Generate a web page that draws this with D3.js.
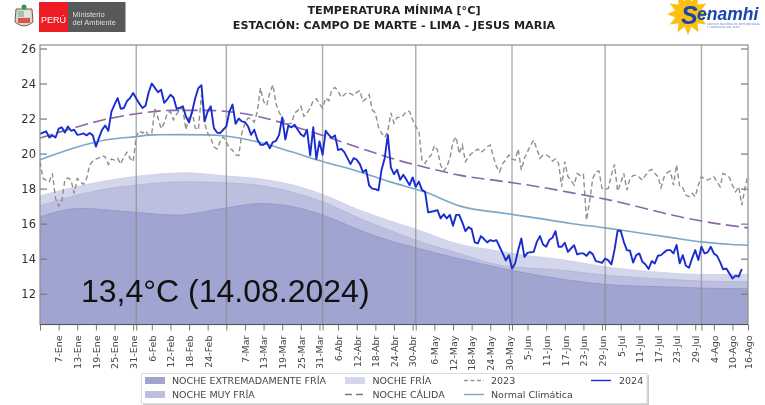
<!DOCTYPE html>
<html><head><meta charset="utf-8">
<script src="https://cdn.jsdelivr.net/npm/d3@7"></script>
<style>html,body{margin:0;padding:0;background:#fff}svg{display:block;filter:blur(0.35px)}text{font-family:"DejaVu Sans",sans-serif}</style>
</head><body><div id="c"></div>
<script>
const yearTitle1 = "TEMPERATURA MÍNIMA [°C]";
const yearTitle2 = "ESTACIÓN: CAMPO DE MARTE - LIMA - JESUS MARIA";
const annotation = "13,4°C (14.08.2024)";
const yTicks = [12,14,16,18,20,22,24,26];
const monthStartDays = [31,60,91,121,152,182,213];
const tickDays = [6,12,18,24,30,36,42,48,54,66,72,78,84,90,96,102,108,114,120,127,133,139,145,151,157,163,169,175,181,187,193,199,205,211,217,223,228];
const tickLabels = ["7-Ene","13-Ene","19-Ene","25-Ene","31-Ene","6-Feb","12-Feb","18-Feb","24-Feb","7-Mar","13-Mar","19-Mar","25-Mar","31-Mar","6-Abr","12-Abr","18-Abr","24-Abr","30-Abr","6-May","12-May","18-May","24-May","30-May","5-Jun","11-Jun","17-Jun","23-Jun","29-Jun","5-Jul","11-Jul","17-Jul","23-Jul","29-Jul","4-Ago","10-Ago","16-Ago"];

const t2024 = [21.13,21.2,21.27,20.92,21.04,20.92,21.42,21.5,21.2,21.55,21.3,21.36,21.07,21.1,21.15,21.04,21.17,21.04,20.4,20.9,21.36,21.6,21.3,22.4,22.8,23.17,22.56,22.6,23,23.17,23.46,23.15,22.85,22.6,22.75,23.5,24,23.75,23.5,23.65,22.9,23.1,23.36,23.2,22.56,22.6,22.7,22.12,21.78,22.4,23.17,23.74,23.9,21.84,22.4,22.7,21.46,21.2,21.17,21.36,21.55,22.4,22.8,21.7,22,21.84,21.8,21.55,21.07,21.36,20.8,20.5,20.5,20.66,20.3,20.66,20.73,21.07,22.07,20.8,21.6,21.5,21.65,21.36,21.1,20.98,21.36,19.9,21.5,19.7,20.7,19.93,21.3,21.07,20.9,21.04,20.2,20.27,20.08,19.74,19.4,19.74,19.65,19.4,18.94,19.08,18.18,18,17.97,17.9,19.08,19.74,21.07,19.2,18.83,19.08,18.5,18.79,18.5,18.2,18.64,18.1,18.4,17.93,17.82,16.64,16.68,16.72,16.77,16.3,16.53,16.3,16.5,15.88,16.5,16.5,16.07,15.57,15.8,15.69,14.93,14.87,15.29,15.12,14.93,15.06,15,15.06,14.68,14.3,13.9,14.2,13.44,13.73,14.49,15.15,14.1,14.33,14.37,14.39,14.96,15.29,14.81,14.68,15.06,15.19,15.57,14.68,14.68,14.91,14.39,14.58,14.77,14.24,14.3,14.3,14.16,14.39,14.26,13.86,13.82,13.76,14.01,13.9,13.67,14.49,15.59,15.59,14.96,14.49,14.45,13.78,14.2,14.3,13.82,13.67,13.41,13.86,13.73,14.17,14.2,14.36,14.49,14.49,14.3,14.78,13.73,14.2,13.6,13.48,14.02,14.49,13.92,14.68,14.3,14.36,14.68,14.3,14.17,13.82,13.39,13.44,13.16,12.87,13.03,12.97,13.41];

const t2023 = [19.54,18.58,18.49,18.39,18.87,17.44,17,17.25,18.49,18.62,18.49,17.73,18.58,18.39,18.24,18.58,19.35,19.57,19.69,19.76,19.88,19.82,19.38,19.69,19.63,19.73,19.4,19.82,20.07,19.73,19.54,20.98,21.3,21.17,21.3,21.04,21.17,22.56,22.03,21.42,21.74,22.32,22.4,21.93,22.26,22.5,22.56,21.36,22.07,22.4,21.46,21.36,23.36,21.74,21.17,20.87,20.39,20.26,20.68,20.96,20.68,20.3,20.2,19.92,19.88,21.17,21.74,22.03,21.99,21.8,22.41,23.74,22.98,22.75,23.46,23.93,22.83,22.35,22.07,21.74,21.69,21.74,22.32,22.45,22.7,22.12,22.32,22.6,23.02,23.13,22.83,22.6,23.17,23.02,23.65,23.78,23.55,23.21,23.36,23.5,23.42,23.32,23.5,23.59,22.98,23.13,23.36,22.5,22.32,21.5,21.17,20.92,21.27,22.32,21.74,22.07,22.07,22.18,22.41,22.41,21.93,21.55,21.3,19.63,19.44,19.73,19.92,20.45,20.2,19.35,19,19.25,19.73,20.68,20.96,20,20.49,19.54,19.82,20,20.15,20.26,20.07,20.2,20.39,20.49,19.82,19.25,18.96,19.44,19.63,19.92,19.69,19.63,20.26,19.06,19.73,20.11,20.49,20.77,20.26,19.73,19.92,19.92,19.82,19.57,19.69,19.44,18.11,19.54,18.68,18.49,18.2,18.87,18.74,18.81,16.2,17.25,18.58,18.96,19,18.01,17.96,18.01,18.77,19.38,17.86,18.3,18.87,17.92,18.58,18.74,18.77,18.64,18.49,18.77,19,19.1,18.87,18.68,18.05,18.68,18.91,19,18.2,19.35,18.11,18.05,17.63,17.54,17.73,17.54,18.2,18.68,18.55,18.49,18.58,18.68,18.39,18.11,18.87,18.77,18.64,18.2,17.82,18.11,17.06,18.01,18.77];

const normalDays = [0,10.7,21.5,31,36.5,45,53.7,59.6,70.3,81,91,102.5,113,124,135.3,150,160.5,171,182,192.7,203.4,213,222.8,228];
const normalVals = [19.65,20.31,20.79,20.97,21.07,21.08,21.07,21,20.66,20.1,19.55,18.98,18.37,17.8,17,16.58,16.3,16.01,15.76,15.48,15.2,14.96,14.81,14.77];
const calidaDays = [0,10.7,21.5,31,43,53.7,60,70.3,81,91,102.5,113,124,135,150,160.5,171,182,192.7,203.4,213,228];
const calidaVals = [20.88,21.46,21.97,22.27,22.47,22.47,22.41,22.12,21.59,21.04,20.35,19.74,19.22,18.77,18.39,18.11,17.77,17.4,16.96,16.49,16.15,15.76];
const friaDays = [0,19.3,31,47,60,71,81.6,91,103,113.8,121,135.3,146,154,167.5,182,199.7,213,228];
const friaVals = [17.59,18.39,18.7,18.9,18.72,18.55,18.2,17.67,16.77,16.1,15.69,14.81,14.49,14.24,13.96,13.54,13.22,13.1,13.1];
const muyDays = [0,19.3,31,47,60,71,81.6,91,103,113.8,121,135,148,167.5,182,199.7,213,228];
const muyVals = [17.02,17.92,18.2,18.39,18.33,18.18,17.78,17.25,16.3,15.54,15.06,14.3,13.63,13.35,13.06,12.85,12.72,12.68];
const extDays = [0,13,31,44,60,71,81.6,91,103,113.8,121,135,150,167.5,182,199.7,213,228];
const extVals = [16.39,16.87,16.64,16.49,16.9,17.15,16.96,16.49,15.63,14.96,14.62,14,13.4,12.85,12.53,12.4,12.32,12.28];

const W=765,H=405,L=40,R=748,T=45,B=324.5;
const x=d3.scaleLinear().domain([0,228]).range([L,R]);
const y=d3.scaleLinear().domain([12,26]).range([293.7,48.5]);
const svg=d3.select("#c").append("svg").attr("width",W).attr("height",H);
const bottomVal=y.invert(B);
const zip=(ds,vs)=>ds.map((d,i)=>[d,vs[i]]);
const band=(ds,vs,col,stroke)=>{
  const pts=zip(ds,vs);
  svg.append("path").datum(pts).attr("fill",col)
   .attr("d",d3.area().x(d=>x(d[0])).y0(y(bottomVal)).y1(d=>y(d[1])).curve(d3.curveMonotoneX));
  svg.append("path").datum(pts).attr("fill","none").attr("stroke",stroke).attr("stroke-width",0.8)
   .attr("d",d3.line().x(d=>x(d[0])).y(d=>y(d[1])).curve(d3.curveMonotoneX));
};
band(friaDays,friaVals,"#d4d6ec","#cdcfe8");
band(muyDays,muyVals,"#bcc0de","#b0b4d8");
band(extDays,extVals,"#a0a4d0","#8e94cb");

// month lines
svg.append("g").selectAll("line").data(monthStartDays).join("line")
 .attr("x1",d=>x(d)).attr("x2",d=>x(d)).attr("y1",T).attr("y2",B)
 .attr("stroke","#8a8a8a").attr("stroke-opacity",0.7).attr("stroke-width",1.4);

// series
const lineXY=d3.line().x(d=>x(d[0])).y(d=>y(d[1]));
const smooth=d3.line().x(d=>x(d[0])).y(d=>y(d[1])).curve(d3.curveMonotoneX);
svg.append("path").datum(t2023.map((v,i)=>[i,v])).attr("fill","none").attr("stroke","#8f8f8f").attr("stroke-width",1.4).attr("stroke-dasharray","5,3").attr("d",lineXY);
svg.append("path").datum(zip(calidaDays,calidaVals)).attr("fill","none").attr("stroke","#8a68a8").attr("stroke-width",1.6).attr("stroke-dasharray","13,5.5").attr("d",smooth);
svg.append("path").datum(zip(normalDays,normalVals)).attr("fill","none").attr("stroke","#7ba7c9").attr("stroke-width",1.6).attr("d",smooth);
svg.append("path").datum(t2024.map((v,i)=>[i,v])).attr("fill","none").attr("stroke","#1b2ccf").attr("stroke-width",1.9).attr("stroke-linejoin","round").attr("d",lineXY);

// axes
const yAxisL=svg.append("g").attr("transform",`translate(${L},0)`).call(d3.axisRight(y).tickValues(yTicks).tickSize(7).tickFormat(""));
const yAxisR=svg.append("g").attr("transform",`translate(${R},0)`).call(d3.axisLeft(y).tickValues(yTicks).tickSize(7).tickFormat(""));
[yAxisL,yAxisR].forEach(g=>{g.select(".domain").remove();g.selectAll("line").attr("stroke","#777").attr("stroke-width",1.2);});
svg.append("g").selectAll("text").data(yTicks).join("text").attr("x",36).attr("y",d=>y(d)+4).attr("text-anchor","end").attr("font-size",11.5).attr("fill","#333").text(d=>d);

const xAxis=svg.append("g").attr("transform",`translate(0,${B})`).call(d3.axisBottom(x).tickValues(tickDays).tickSize(6).tickFormat((d,i)=>tickLabels[i]));
xAxis.select(".domain").remove();
xAxis.selectAll("line").attr("stroke","#777").attr("stroke-width",1);
xAxis.selectAll("text").attr("font-family","DejaVu Sans").attr("font-size",9.5).attr("fill","#444").attr("text-anchor","end")
  .attr("transform","rotate(-90)").attr("x",-11).attr("y",0).attr("dy","0.35em");
const xMinor=svg.append("g").attr("transform",`translate(0,${B})`).call(d3.axisBottom(x).tickValues([0,...monthStartDays]).tickSize(6).tickFormat(""));
xMinor.select(".domain").remove();xMinor.selectAll("line").attr("stroke","#777").attr("stroke-width",1);

svg.append("rect").attr("x",L).attr("y",T).attr("width",R-L).attr("height",B-T).attr("fill","none").attr("stroke","#8c8c8c").attr("stroke-width",1.2);
svg.append("line").attr("x1",L).attr("x2",R).attr("y1",B).attr("y2",B).attr("stroke","#555").attr("stroke-width",1.1);

// titles
svg.append("text").attr("x",394).attr("y",14).attr("text-anchor","middle").attr("font-weight","bold").attr("font-size",11.2).attr("fill","#222").text(yearTitle1);
svg.append("text").attr("x",394).attr("y",29).attr("text-anchor","middle").attr("font-weight","bold").attr("font-size",11.2).attr("fill","#222").text(yearTitle2);
svg.append("text").attr("x",81).attr("y",302).attr("font-size",32).attr("fill","#111").style("font-family","'Liberation Sans',Arial,sans-serif").text(annotation);

// legend
const lg=svg.append("g");
lg.append("rect").attr("x",143).attr("y",375).attr("width",506).attr("height",30).attr("fill","#ccc");
lg.append("rect").attr("x",141.5).attr("y",373.5).attr("width",505.5).attr("height",30).attr("fill","#fff").attr("stroke","#ddd");
const legendRows=[
 {k:"box",c:"#a0a4d0",sx:145,tx:172,y:380.5,t:"NOCHE EXTREMADAMENTE FRÍA"},
 {k:"box",c:"#bcc0de",sx:145,tx:172,y:394.5,t:"NOCHE MUY FRÍA"},
 {k:"box",c:"#d4d6ec",sx:345,tx:372.5,y:380.5,t:"NOCHE FRÍA"},
 {k:"dash",c:"#8a68a8",d:"7,4",sx:345,tx:372.5,y:394.5,t:"NOCHE CÁLIDA"},
 {k:"dash",c:"#999",d:"4,2.5",sx:464,tx:491,y:380.5,t:"2023"},
 {k:"line",c:"#7ba7c9",sx:464,tx:491,y:394.5,t:"Normal Climática"},
 {k:"line",c:"#1b2ccf",sx:591,tx:619,y:380.5,t:"2024"}];
legendRows.forEach(r=>{
  if(r.k==="box") lg.append("rect").attr("x",r.sx).attr("y",r.y-3.5).attr("width",20).attr("height",7).attr("fill",r.c);
  else lg.append("line").attr("x1",r.sx).attr("x2",r.sx+20).attr("y1",r.y).attr("y2",r.y).attr("stroke",r.c).attr("stroke-width",1.4).attr("stroke-dasharray",r.d||null);
  lg.append("text").attr("x",r.tx).attr("y",r.y+3.3).attr("font-size",9.5).attr("fill","#444").text(r.t);
});

// logos
const lp=svg.append("g");
lp.append("path").attr("d","M16 9 L32 9 L33 22 Q24 30 15 22 Z").attr("fill","#d8d8d0").attr("stroke","#7a5a3a").attr("stroke-width",1);
lp.append("rect").attr("x",18).attr("y",11).attr("width",6).attr("height",6).attr("fill","#9fc6a8");
lp.append("rect").attr("x",24).attr("y",11).attr("width",6).attr("height",6).attr("fill","#e5e5e0");
lp.append("rect").attr("x",18).attr("y",18).attr("width",12).attr("height",5).attr("fill","#d9534f");
lp.append("circle").attr("cx",24).attr("cy",7).attr("r",2.5).attr("fill","#3f8f55");
lp.append("rect").attr("x",39).attr("y",2).attr("width",29).attr("height",30).attr("fill","#ee1c25");
lp.append("rect").attr("x",68).attr("y",2).attr("width",57.5).attr("height",30).attr("fill","#58595b");
lp.append("text").attr("x",53.5).attr("y",22.5).attr("text-anchor","middle").attr("font-size",9).attr("fill","#fff").style("font-family","'Liberation Sans',sans-serif").text("PERÚ");
lp.append("text").attr("x",72.5).attr("y",16.5).attr("font-size",7.5).attr("fill","#ddd").style("font-family","'Liberation Sans',sans-serif").text("Ministerio");
lp.append("text").attr("x",72.5).attr("y",24.5).attr("font-size",7.5).attr("fill","#ddd").style("font-family","'Liberation Sans',sans-serif").text("del Ambiente");

const sn=svg.append("g");
const sunRays=d3.range(12).map(i=>i*30);
sn.append("g").attr("transform","translate(688,14)").selectAll("path").data(sunRays).join("path")
 .attr("d","M-5 -9 L0 -21 L5 -9 Z").attr("fill","#fdc010").attr("transform",d=>`rotate(${d})`);
sn.append("circle").attr("cx",688).attr("cy",14).attr("r",11.5).attr("fill","#fdc010");
sn.append("text").attr("x",681).attr("y",24).attr("font-size",25).attr("font-style","italic").attr("font-weight","bold").attr("fill","#1846b0").style("font-family","'Liberation Sans',sans-serif").text("S");
sn.append("text").attr("x",697).attr("y",20).attr("font-size",17.5).attr("font-style","italic").attr("font-weight","bold").attr("fill","#1846b0").style("font-family","'Liberation Sans',sans-serif").text("enamhi");
sn.append("text").attr("x",707).attr("y",25).attr("font-size",2.6).attr("fill","#5f7fc8").text("SERVICIO NACIONAL DE METEOROLOGÍA");
sn.append("text").attr("x",707).attr("y",28).attr("font-size",2.6).attr("fill","#5f7fc8").text("E HIDROLOGÍA DEL PERÚ");
</script></body></html>
